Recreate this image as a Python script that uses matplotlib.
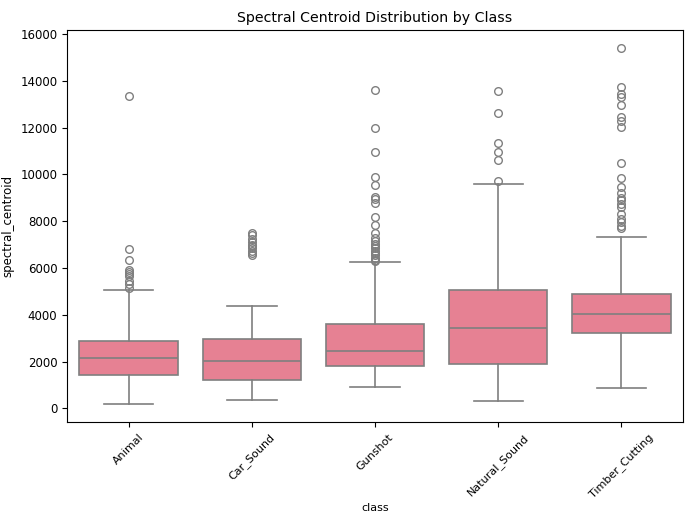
import matplotlib
matplotlib.use("Agg")
import matplotlib.pyplot as plt

# (values of spectral_centroid)
classes = ["Animal", "Car_Sound", "Gunshot", "Natural_Sound", "Timber_Cutting"]
q1 = [1420, 1200, 1800, 1890, 3220]
med = [2150, 2020, 2450, 3430, 4030]
q3 = [2880, 2960, 3600, 5060, 4890]
wlo = [170, 340, 900, 300, 860]
whi = [5060, 4380, 6270, 9610, 7340]
fliers = [
    [13350, 6820, 6350, 5900, 5820, 5750, 5650, 5450, 5300, 5150],
    [7500, 7400, 7250, 7100, 7000, 6950, 6850, 6750, 6650, 6550],
    [13600, 12000, 10950, 9900, 9550, 9050, 8950, 8800, 8200, 7850, 7500,
     7300, 7150, 7050, 6950, 6850, 6750, 6650, 6550, 6450, 6350, 6300],
    [13550, 12650, 11350, 10980, 10600, 9720],
    [15400, 13750, 13450, 13300, 12950, 12450, 12300, 12050, 10500, 9850,
     9450, 9200, 9000, 8900, 8750, 8600, 8300, 8100, 7950, 7800, 7700],
]

box_color = "#e68193"
line_color = "#7f7f7f"

stats = []
for i, name in enumerate(classes):
    stats.append({"label": name, "q1": q1[i], "med": med[i], "q3": q3[i],
                  "whislo": wlo[i], "whishi": whi[i], "fliers": fliers[i]})

fig = plt.figure(figsize=(6.85, 5.2), dpi=100)
ax = fig.add_axes([0.098, 0.188, 0.899, 0.754])

ax.bxp(stats, positions=range(len(classes)), widths=0.8, patch_artist=True,
       boxprops=dict(facecolor=box_color, edgecolor=line_color, linewidth=1.2),
       whiskerprops=dict(color=line_color, linewidth=1.2),
       capprops=dict(color=line_color, linewidth=1.2),
       medianprops=dict(color=line_color, linewidth=1.2),
       flierprops=dict(marker="o", markerfacecolor="none",
                       markeredgecolor=line_color, markersize=5.5, markeredgewidth=1.0),
       capwidths=0.4)

ax.set_xlim(-0.5, 4.5)
ax.set_ylim(-590, 16170)
ax.set_xticks(range(len(classes)))
ax.set_xticklabels(classes, rotation=45, fontsize=8)
ax.set_yticks(range(0, 16001, 2000))
ax.tick_params(axis="y", labelsize=8.5)
ax.set_title("Spectral Centroid Distribution by Class", fontsize=10.2)
ax.set_xlabel("class", fontsize=8, labelpad=2)
ax.set_ylabel("spectral_centroid", fontsize=8.5)

fig.savefig("out.png", dpi=100)
